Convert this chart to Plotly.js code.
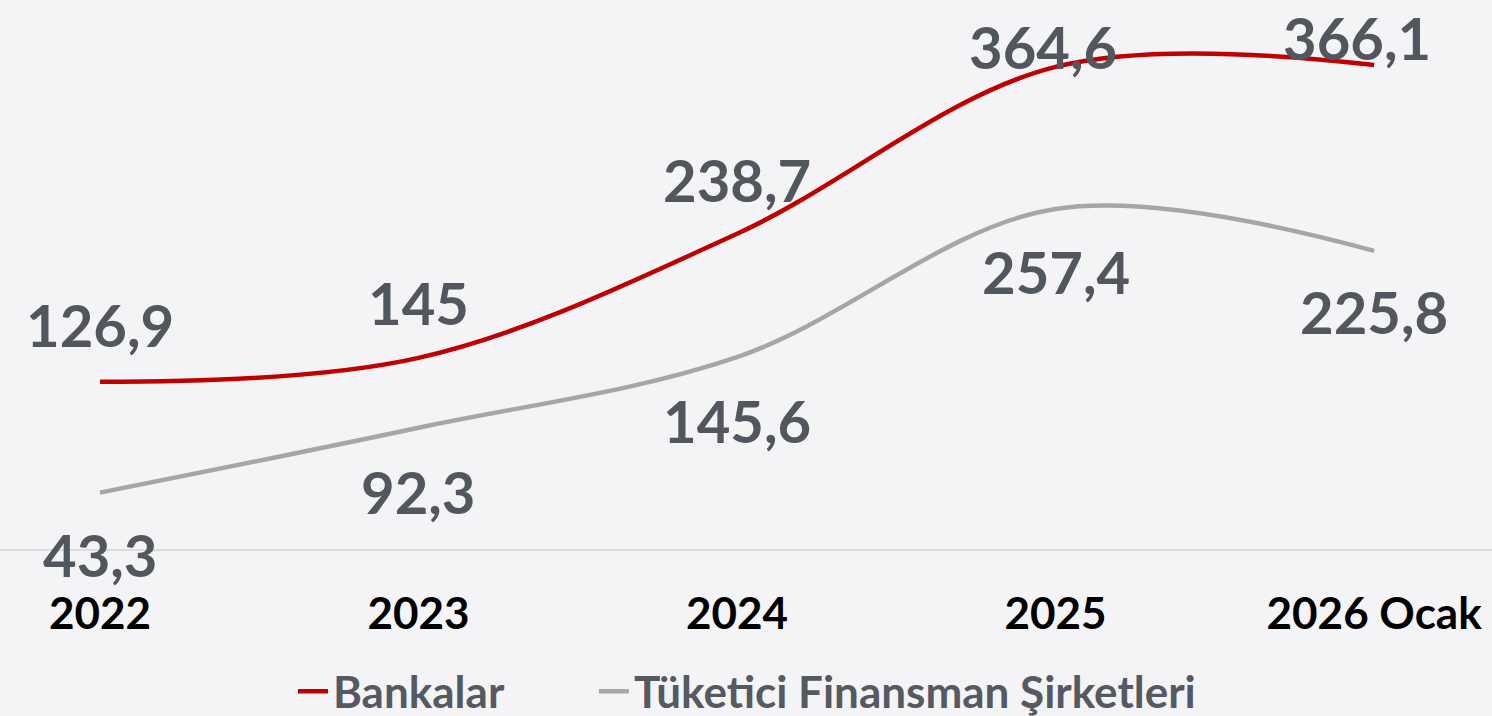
<!DOCTYPE html>
<html>
<head>
<meta charset="utf-8">
<script src="https://cdn.plot.ly/plotly-3.0.1.min.js"></script>
<style>
html,body{margin:0;padding:0;background:#f4f4f6;}
#chart{width:1492px;height:716px;}
</style>
</head>
<body>
<div id="chart"></div>
<script>
const categories = ["2022", "2023", "2024", "2025", "2026 Ocak"];
const bankalar = [126.9, 145, 238.7, 364.6, 366.1];
const tuketici = [43.3, 92.3, 145.6, 257.4, 225.8];
const bankalarLabels = ["126,9", "145", "238,7", "364,6", "366,1"];
const tuketiciLabels = ["43,3", "92,3", "145,6", "257,4", "225,8"];
const seriesNames = ["Bankalar", "Tüketici Finansman Şirketleri"];

// label offsets (styling only)
const redShift = [57, 55, 54, 20, 27];
const redXShift = [0, 0, 0, -13, -17];
const grayShift = [-62, -64, -63, -63, -61];

const labelFont = {family: "Lato, 'Open Sans', sans-serif", size: 58, color: "#52575f", weight: 700};

const annotations = [];
categories.forEach((c, i) => {
  annotations.push({x: i, y: bankalar[i], xref: "x", yref: "y", text: "<b>" + bankalarLabels[i] + "</b>",
    showarrow: false, yshift: redShift[i], xshift: redXShift[i], font: labelFont, xanchor: "center", yanchor: "middle"});
  annotations.push({x: i, y: tuketici[i], xref: "x", yref: "y", text: "<b>" + tuketiciLabels[i] + "</b>",
    showarrow: false, yshift: grayShift[i], font: labelFont, xanchor: "center", yanchor: "middle"});
});

const traces = [
  {x: categories, y: bankalar, type: "scatter", mode: "lines", name: seriesNames[0] + "\u00a0".repeat(8),
   line: {color: "#c00000", width: 4.5, shape: "spline", smoothing: 1}},
  {x: categories, y: tuketici, type: "scatter", mode: "lines", name: seriesNames[1],
   line: {color: "#a6a6a6", width: 4.5, shape: "spline", smoothing: 1}}
];

const layout = {
  width: 1492, height: 716,
  paper_bgcolor: "#f4f4f6", plot_bgcolor: "#f4f4f6",
  margin: {l: 0, r: 0, t: 0, b: 166},
  showlegend: true,
  legend: {orientation: "h", x: 293 / 1492, xanchor: "left", xref: "container", yref: "container", y: 0.034, yanchor: "middle",
    font: {family: "Lato, 'Open Sans', sans-serif", size: 44, color: "#555a62", weight: 700},
    bgcolor: "rgba(0,0,0,0)", itemwidth: 30, tracegroupgap: 0},
  xaxis: {type: "category", range: [-0.314, 4.370], showgrid: false, zeroline: false, showline: false,
    ticks: "", ticklabelstandoff: 34, automargin: false,
    tickfont: {family: "Lato, 'Open Sans', sans-serif", size: 44, color: "#000000", weight: 700}},
  yaxis: {range: [0, 415.1], showgrid: false, zeroline: true, zerolinecolor: "#dcdcdf", zerolinewidth: 1.5,
    showticklabels: false, ticks: "", automargin: false},
  annotations: annotations
};

Plotly.newPlot("chart", traces, layout, {displayModeBar: false, staticPlot: true});
</script>
</body>
</html>
